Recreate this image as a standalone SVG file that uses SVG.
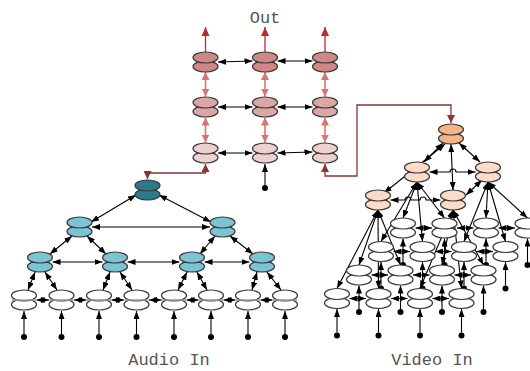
<svg xmlns="http://www.w3.org/2000/svg" width="530" height="371" viewBox="0 0 530 371">
<defs>
<marker id="mb" markerUnits="userSpaceOnUse" markerWidth="8" markerHeight="6" refX="8" refY="3" orient="auto-start-reverse"><path d="M0,0 L8,3 L0,6 z" fill="#000"/></marker>
<marker id="mr" markerUnits="userSpaceOnUse" markerWidth="9" markerHeight="8" refX="9" refY="4" orient="auto-start-reverse"><path d="M0,0 L9,4 L0,8 z" fill="#c0282e"/></marker>
<marker id="ms" markerUnits="userSpaceOnUse" markerWidth="8" markerHeight="8" refX="8" refY="4" orient="auto-start-reverse"><path d="M0,0 L8,4 L0,8 z" fill="#d87474"/></marker>
<marker id="md" markerUnits="userSpaceOnUse" markerWidth="8" markerHeight="8" refX="8" refY="4" orient="auto-start-reverse"><path d="M0,0 L8,4 L0,8 z" fill="#8a3333"/></marker>
</defs>
<style>
ellipse{stroke:#3a3a3a;stroke-width:1.2}
.g1 ellipse{fill:#cf8788}
.g2 ellipse{fill:#dca6a7}
.g3 ellipse{fill:#eed0d0}
.at ellipse{fill:#2b7a8b}
.al ellipse{fill:#7cc3d3}
.w ellipse{fill:#fff}
.vt ellipse{fill:#f5b488}
.vl ellipse{fill:#fcdcc8}
.k line,.k polyline{stroke:#000;stroke-width:1.1;fill:none}
.k .b{marker-start:url(#mb);marker-end:url(#mb)}
.k .e{marker-end:url(#mb)}
.k .red{stroke:#c0282e;stroke-width:1.3;marker-end:url(#mr)}
.k .sal{stroke:#d87474;stroke-width:1.6;marker-start:url(#ms);marker-end:url(#ms)}
.k .dr{stroke:#8a3333;stroke-width:1.3;marker-start:url(#md);marker-end:url(#md)}
.k .gl{stroke:#888;stroke-width:1.2}
.k circle{fill:#000}
text{font-family:"Liberation Mono",monospace;font-size:17px;fill:#555}
</style>
<g id="connectors" class="k">
<!-- output grid -->
<line class="red" x1="205.5" y1="52" x2="205.5" y2="27"/>
<line class="red" x1="265" y1="52" x2="265" y2="27"/>
<line class="red" x1="325" y1="52" x2="325" y2="27"/>
<line class="b" x1="218" y1="62" x2="252.5" y2="61"/>
<line class="b" x1="277.5" y1="61" x2="312.5" y2="61"/>
<line class="b" x1="218" y1="107" x2="252.5" y2="107"/>
<line class="b" x1="277.5" y1="107" x2="312.5" y2="107"/>
<line class="b" x1="218" y1="153" x2="252.5" y2="153"/>
<line class="b" x1="277.5" y1="153" x2="312.5" y2="152"/>
<line class="sal" x1="205.5" y1="72" x2="205.5" y2="96.5"/>
<line class="sal" x1="265" y1="72" x2="265" y2="96.5"/>
<line class="sal" x1="325" y1="72" x2="325" y2="96.5"/>
<line class="sal" x1="205.5" y1="117.5" x2="205.5" y2="142.5"/>
<line class="sal" x1="265" y1="117.5" x2="265" y2="142.5"/>
<line class="sal" x1="325" y1="117.5" x2="325" y2="142.5"/>
<circle cx="265" cy="188" r="3"/>
<line class="e" x1="265" y1="185" x2="265" y2="164"/>
<polyline class="dr" points="205.5,164 205.5,173 147.5,173 147.5,179"/>
<polyline class="dr" points="325,164 325,176 357,176 357,105 451,105 451,123"/>
<!-- audio tree -->
<line class="b" x1="136" y1="195" x2="91" y2="222"/>
<line class="b" x1="159" y1="195" x2="211" y2="222"/>
<line class="b" x1="92" y1="227" x2="210" y2="227"/>
<line class="b" x1="72" y1="236" x2="50" y2="254"/>
<line class="b" x1="87" y1="236" x2="106" y2="254"/>
<line class="b" x1="215" y1="236" x2="200" y2="254"/>
<line class="b" x1="230" y1="236" x2="253" y2="254"/>
<line class="b" x1="52.5" y1="262" x2="102.5" y2="262"/>
<line class="b" x1="127.5" y1="262" x2="179.5" y2="262"/>
<line class="b" x1="204.5" y1="262" x2="249.5" y2="262"/>
<line class="b" x1="35" y1="272" x2="28" y2="290"/>
<line class="b" x1="45" y1="272" x2="57" y2="290"/>
<line class="b" x1="110" y1="272" x2="103" y2="290"/>
<line class="b" x1="120" y1="272" x2="132" y2="290"/>
<line class="b" x1="187" y1="272" x2="178" y2="290"/>
<line class="b" x1="197" y1="272" x2="207" y2="290"/>
<line class="b" x1="257" y1="272" x2="252" y2="290"/>
<line class="b" x1="267" y1="272" x2="281" y2="290"/>
<line class="b" x1="36.5" y1="300" x2="49" y2="300"/>
<line class="b" x1="74" y1="300" x2="86.5" y2="300"/>
<line class="b" x1="111.5" y1="300" x2="124" y2="300"/>
<line class="b" x1="149" y1="300" x2="161.5" y2="300"/>
<line class="b" x1="186.5" y1="300" x2="198.5" y2="300"/>
<line class="b" x1="223.5" y1="300" x2="235.5" y2="300"/>
<line class="b" x1="260.5" y1="300" x2="272.5" y2="300"/>
<circle cx="24" cy="337" r="3"/><line class="e" x1="24" y1="334" x2="24" y2="311"/>
<circle cx="61.5" cy="337" r="3"/><line class="e" x1="61.5" y1="334" x2="61.5" y2="311"/>
<circle cx="99" cy="337" r="3"/><line class="e" x1="99" y1="334" x2="99" y2="311"/>
<circle cx="136.5" cy="337" r="3"/><line class="e" x1="136.5" y1="334" x2="136.5" y2="311"/>
<circle cx="174" cy="337" r="3"/><line class="e" x1="174" y1="334" x2="174" y2="311"/>
<circle cx="211" cy="337" r="3"/><line class="e" x1="211" y1="334" x2="211" y2="311"/>
<circle cx="248" cy="337" r="3"/><line class="e" x1="248" y1="334" x2="248" y2="311"/>
<circle cx="285" cy="337" r="3"/><line class="e" x1="285" y1="334" x2="285" y2="311"/>
<!-- video tree -->
<line class="b" x1="443" y1="143" x2="424" y2="162"/>
<line class="b" x1="459" y1="143" x2="480" y2="162"/>
<line class="b" x1="445" y1="144" x2="384" y2="193"/>
<line class="b" x1="451" y1="144" x2="453" y2="190"/>
<path d="M429.5,172 H450 a3,3 0 0 1 6,0 H475.5" fill="none" stroke="#000" stroke-width="1.1" marker-start="url(#mb)" marker-end="url(#mb)"/>
<path d="M390.5,200 H405 a3,3 0 0 1 6,0 H420 a3,3 0 0 1 6,0 H440.5" fill="none" stroke="#000" stroke-width="1.1" marker-start="url(#mb)" marker-end="url(#mb)"/>
<line class="b" x1="466" y1="195" x2="482" y2="180"/>
<!-- fans -->
<line class="b" x1="417" y1="182" x2="403" y2="218"/>
<line class="b" x1="417" y1="182" x2="444.5" y2="218"/>
<line class="b" x1="417" y1="182" x2="381" y2="241.5"/>
<line class="b" x1="417" y1="182" x2="422.5" y2="241.5"/>
<line class="b" x1="488" y1="182" x2="486" y2="218"/>
<line class="b" x1="488" y1="182" x2="527.5" y2="218"/>
<line class="b" x1="488" y1="182" x2="464" y2="241.5"/>
<line class="b" x1="488" y1="182" x2="505.5" y2="241.5"/>
<line class="b" x1="378" y1="210" x2="359" y2="265"/>
<line class="b" x1="378" y1="210" x2="400.5" y2="265"/>
<line class="b" x1="378" y1="210" x2="337" y2="288.5"/>
<line class="b" x1="378" y1="210" x2="378.5" y2="288.5"/>
<line class="b" x1="453" y1="210" x2="442" y2="265"/>
<line class="b" x1="453" y1="210" x2="483.5" y2="265"/>
<line class="b" x1="453" y1="210" x2="420" y2="288.5"/>
<line class="b" x1="453" y1="210" x2="461.5" y2="288.5"/>
<!-- white grid rows -->
<line class="b" x1="415.5" y1="228" x2="432" y2="228"/>
<line class="b" x1="457" y1="228" x2="473.5" y2="228"/>
<line class="b" x1="498.5" y1="228" x2="515" y2="228"/>
<line class="b" x1="393.5" y1="251.5" x2="410" y2="251.5"/>
<line class="b" x1="435" y1="251.5" x2="451.5" y2="251.5"/>
<line class="b" x1="476.5" y1="251.5" x2="493" y2="251.5"/>
<line class="b" x1="371.5" y1="275" x2="388" y2="275"/>
<line class="b" x1="413" y1="275" x2="429.5" y2="275"/>
<line class="b" x1="454.5" y1="275" x2="471" y2="275"/>
<line class="b" x1="349.5" y1="298.5" x2="366" y2="298.5"/>
<line class="b" x1="391" y1="298.5" x2="407.5" y2="298.5"/>
<line class="b" x1="432.5" y1="298.5" x2="449" y2="298.5"/>
<!-- inputs -->
<circle cx="403" cy="265" r="3"/><line class="e" x1="403" y1="262" x2="403" y2="238.5"/>
<circle cx="444.5" cy="265" r="3"/><line class="e" x1="444.5" y1="262" x2="444.5" y2="238.5"/>
<circle cx="486" cy="265" r="3"/><line class="e" x1="486" y1="262" x2="486" y2="238.5"/>
<circle cx="527.5" cy="265" r="3"/><line class="e" x1="527.5" y1="262" x2="527.5" y2="238.5"/>
<circle cx="381" cy="288.5" r="3"/><line class="e" x1="381" y1="285.5" x2="381" y2="262"/>
<circle cx="422.5" cy="288.5" r="3"/><line class="e" x1="422.5" y1="285.5" x2="422.5" y2="262"/>
<circle cx="464" cy="288.5" r="3"/><line class="e" x1="464" y1="285.5" x2="464" y2="262"/>
<circle cx="505.5" cy="288.5" r="3"/><line class="e" x1="505.5" y1="285.5" x2="505.5" y2="262"/>
<circle cx="359" cy="312" r="3"/><line class="e" x1="359" y1="309" x2="359" y2="285.5"/>
<circle cx="400.5" cy="312" r="3"/><line class="e" x1="400.5" y1="309" x2="400.5" y2="285.5"/>
<circle cx="442" cy="312" r="3"/><line class="e" x1="442" y1="309" x2="442" y2="285.5"/>
<circle cx="483.5" cy="312" r="3"/><line class="e" x1="483.5" y1="309" x2="483.5" y2="285.5"/>
<circle cx="337" cy="335.5" r="3"/><line class="e" x1="337" y1="332.5" x2="337" y2="309"/>
<circle cx="378.5" cy="335.5" r="3"/><line class="e" x1="378.5" y1="332.5" x2="378.5" y2="309"/>
<circle cx="420" cy="335.5" r="3"/><line class="e" x1="420" y1="332.5" x2="420" y2="309"/>
<circle cx="461.5" cy="335.5" r="3"/><line class="e" x1="461.5" y1="332.5" x2="461.5" y2="309"/>
</g>
<!-- output grid nodes -->
<g id="o11" class="g1"><ellipse cx="205.5" cy="66.5" rx="12.5" ry="5.5"/><ellipse cx="205.5" cy="57.5" rx="12.5" ry="5.5"/></g>
<g id="o12" class="g1"><ellipse cx="265" cy="66.5" rx="12.5" ry="5.5"/><ellipse cx="265" cy="57.5" rx="12.5" ry="5.5"/></g>
<g id="o13" class="g1"><ellipse cx="325" cy="66.5" rx="12.5" ry="5.5"/><ellipse cx="325" cy="57.5" rx="12.5" ry="5.5"/></g>
<g id="o21" class="g2"><ellipse cx="205.5" cy="111.5" rx="12.5" ry="5.5"/><ellipse cx="205.5" cy="102.5" rx="12.5" ry="5.5"/></g>
<g id="o22" class="g2"><ellipse cx="265" cy="111.5" rx="12.5" ry="5.5"/><ellipse cx="265" cy="102.5" rx="12.5" ry="5.5"/></g>
<g id="o23" class="g2"><ellipse cx="325" cy="111.5" rx="12.5" ry="5.5"/><ellipse cx="325" cy="102.5" rx="12.5" ry="5.5"/></g>
<g id="o31" class="g3"><ellipse cx="205.5" cy="157.5" rx="12.5" ry="5.5"/><ellipse cx="205.5" cy="148.5" rx="12.5" ry="5.5"/></g>
<g id="o32" class="g3"><ellipse cx="265" cy="157.5" rx="12.5" ry="5.5"/><ellipse cx="265" cy="148.5" rx="12.5" ry="5.5"/></g>
<g id="o33" class="g3"><ellipse cx="325" cy="157.5" rx="12.5" ry="5.5"/><ellipse cx="325" cy="148.5" rx="12.5" ry="5.5"/></g>
<!-- audio nodes -->
<g id="a0" class="at"><ellipse cx="147.5" cy="194.5" rx="12.5" ry="5.5"/><ellipse cx="147.5" cy="185.5" rx="12.5" ry="5.5"/></g>
<g id="a1" class="al"><ellipse cx="79.5" cy="231.5" rx="12.5" ry="5.5"/><ellipse cx="79.5" cy="222.5" rx="12.5" ry="5.5"/></g>
<g id="a2" class="al"><ellipse cx="222.5" cy="231.5" rx="12.5" ry="5.5"/><ellipse cx="222.5" cy="222.5" rx="12.5" ry="5.5"/></g>
<g id="a3" class="al"><ellipse cx="40" cy="266.5" rx="12.5" ry="5.5"/><ellipse cx="40" cy="257.5" rx="12.5" ry="5.5"/></g>
<g id="a4" class="al"><ellipse cx="115" cy="266.5" rx="12.5" ry="5.5"/><ellipse cx="115" cy="257.5" rx="12.5" ry="5.5"/></g>
<g id="a5" class="al"><ellipse cx="192" cy="266.5" rx="12.5" ry="5.5"/><ellipse cx="192" cy="257.5" rx="12.5" ry="5.5"/></g>
<g id="a6" class="al"><ellipse cx="262" cy="266.5" rx="12.5" ry="5.5"/><ellipse cx="262" cy="257.5" rx="12.5" ry="5.5"/></g>
<g id="al1" class="w"><ellipse cx="24" cy="304.5" rx="12.5" ry="5.5"/><ellipse cx="24" cy="295.5" rx="12.5" ry="5.5"/><line x1="12" y1="300" x2="36" y2="300" stroke="#999" stroke-width="1.5"/></g>
<g id="al2" class="w"><ellipse cx="61.5" cy="304.5" rx="12.5" ry="5.5"/><ellipse cx="61.5" cy="295.5" rx="12.5" ry="5.5"/><line x1="49.5" y1="300" x2="73.5" y2="300" stroke="#999" stroke-width="1.5"/></g>
<g id="al3" class="w"><ellipse cx="99" cy="304.5" rx="12.5" ry="5.5"/><ellipse cx="99" cy="295.5" rx="12.5" ry="5.5"/><line x1="87" y1="300" x2="111" y2="300" stroke="#999" stroke-width="1.5"/></g>
<g id="al4" class="w"><ellipse cx="136.5" cy="304.5" rx="12.5" ry="5.5"/><ellipse cx="136.5" cy="295.5" rx="12.5" ry="5.5"/><line x1="124.5" y1="300" x2="148.5" y2="300" stroke="#999" stroke-width="1.5"/></g>
<g id="al5" class="w"><ellipse cx="174" cy="304.5" rx="12.5" ry="5.5"/><ellipse cx="174" cy="295.5" rx="12.5" ry="5.5"/><line x1="162" y1="300" x2="186" y2="300" stroke="#999" stroke-width="1.5"/></g>
<g id="al6" class="w"><ellipse cx="211" cy="304.5" rx="12.5" ry="5.5"/><ellipse cx="211" cy="295.5" rx="12.5" ry="5.5"/><line x1="199" y1="300" x2="223" y2="300" stroke="#999" stroke-width="1.5"/></g>
<g id="al7" class="w"><ellipse cx="248" cy="304.5" rx="12.5" ry="5.5"/><ellipse cx="248" cy="295.5" rx="12.5" ry="5.5"/><line x1="236" y1="300" x2="260" y2="300" stroke="#999" stroke-width="1.5"/></g>
<g id="al8" class="w"><ellipse cx="285" cy="304.5" rx="12.5" ry="5.5"/><ellipse cx="285" cy="295.5" rx="12.5" ry="5.5"/><line x1="273" y1="300" x2="297" y2="300" stroke="#999" stroke-width="1.5"/></g>
<!-- video nodes -->
<g id="v0" class="vt"><ellipse cx="451" cy="138.5" rx="12.5" ry="5.5"/><ellipse cx="451" cy="129.5" rx="12.5" ry="5.5"/></g>
<g id="v1" class="vl"><ellipse cx="417" cy="176.5" rx="12.5" ry="5.5"/><ellipse cx="417" cy="167.5" rx="12.5" ry="5.5"/></g>
<g id="v2" class="vl"><ellipse cx="488" cy="176.5" rx="12.5" ry="5.5"/><ellipse cx="488" cy="167.5" rx="12.5" ry="5.5"/></g>
<g id="v3" class="vl"><ellipse cx="378" cy="204.5" rx="12.5" ry="5.5"/><ellipse cx="378" cy="195.5" rx="12.5" ry="5.5"/></g>
<g id="v4" class="vl"><ellipse cx="453" cy="204.5" rx="12.5" ry="5.5"/><ellipse cx="453" cy="195.5" rx="12.5" ry="5.5"/></g>
<g id="w11" class="w"><ellipse cx="403" cy="232.5" rx="12.5" ry="5.5"/><ellipse cx="403" cy="223.5" rx="12.5" ry="5.5"/></g>
<g id="w12" class="w"><ellipse cx="444.5" cy="232.5" rx="12.5" ry="5.5"/><ellipse cx="444.5" cy="223.5" rx="12.5" ry="5.5"/></g>
<g id="w13" class="w"><ellipse cx="486" cy="232.5" rx="12.5" ry="5.5"/><ellipse cx="486" cy="223.5" rx="12.5" ry="5.5"/></g>
<g id="w14" class="w"><ellipse cx="527.5" cy="232.5" rx="12.5" ry="5.5"/><ellipse cx="527.5" cy="223.5" rx="12.5" ry="5.5"/></g>
<g id="w21" class="w"><ellipse cx="381" cy="256" rx="12.5" ry="5.5"/><ellipse cx="381" cy="247" rx="12.5" ry="5.5"/></g>
<g id="w22" class="w"><ellipse cx="422.5" cy="256" rx="12.5" ry="5.5"/><ellipse cx="422.5" cy="247" rx="12.5" ry="5.5"/></g>
<g id="w23" class="w"><ellipse cx="464" cy="256" rx="12.5" ry="5.5"/><ellipse cx="464" cy="247" rx="12.5" ry="5.5"/></g>
<g id="w24" class="w"><ellipse cx="505.5" cy="256" rx="12.5" ry="5.5"/><ellipse cx="505.5" cy="247" rx="12.5" ry="5.5"/></g>
<g id="w31" class="w"><ellipse cx="359" cy="279.5" rx="12.5" ry="5.5"/><ellipse cx="359" cy="270.5" rx="12.5" ry="5.5"/></g>
<g id="w32" class="w"><ellipse cx="400.5" cy="279.5" rx="12.5" ry="5.5"/><ellipse cx="400.5" cy="270.5" rx="12.5" ry="5.5"/></g>
<g id="w33" class="w"><ellipse cx="442" cy="279.5" rx="12.5" ry="5.5"/><ellipse cx="442" cy="270.5" rx="12.5" ry="5.5"/></g>
<g id="w34" class="w"><ellipse cx="483.5" cy="279.5" rx="12.5" ry="5.5"/><ellipse cx="483.5" cy="270.5" rx="12.5" ry="5.5"/></g>
<g id="w41" class="w"><ellipse cx="337" cy="303" rx="12.5" ry="5.5"/><ellipse cx="337" cy="294" rx="12.5" ry="5.5"/></g>
<g id="w42" class="w"><ellipse cx="378.5" cy="303" rx="12.5" ry="5.5"/><ellipse cx="378.5" cy="294" rx="12.5" ry="5.5"/></g>
<g id="w43" class="w"><ellipse cx="420" cy="303" rx="12.5" ry="5.5"/><ellipse cx="420" cy="294" rx="12.5" ry="5.5"/></g>
<g id="w44" class="w"><ellipse cx="461.5" cy="303" rx="12.5" ry="5.5"/><ellipse cx="461.5" cy="294" rx="12.5" ry="5.5"/></g>
<text x="265" y="23" text-anchor="middle">Out</text>
<text x="169" y="365" text-anchor="middle">Audio In</text>
<text x="432" y="365" text-anchor="middle">Video In</text>
</svg>
